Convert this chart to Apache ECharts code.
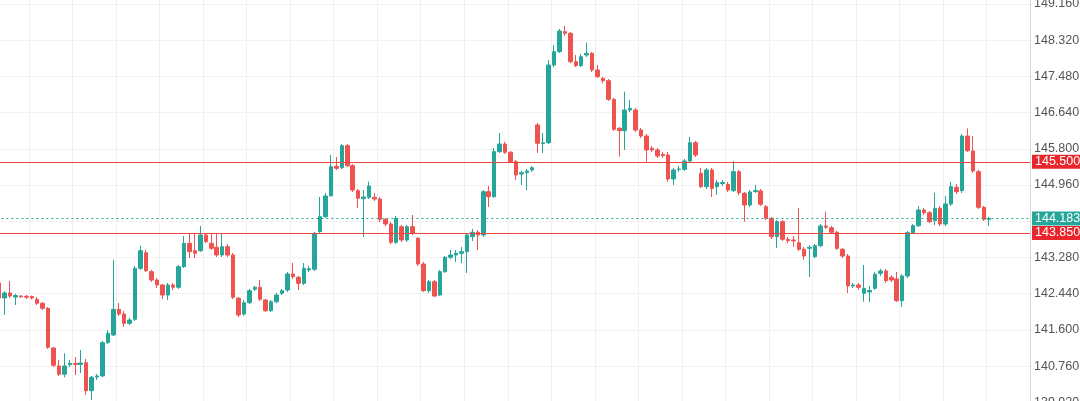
<!DOCTYPE html>
<html>
<head>
<meta charset="utf-8">
<script src="https://cdn.jsdelivr.net/npm/echarts@6/dist/echarts.min.js"></script>
<style>
html,body{margin:0;padding:0;background:#fff;}
#chart{width:1080px;height:401px;}
</style>
</head>
<body>
<div id="chart"></div>
<script>
const openV = [142.687,142.339,142.455,142.362,142.385,142.379,142.374,142.309,142.216,142.100,141.179,140.762,140.570,140.792,140.820,140.797,140.838,140.189,140.507,140.530,141.303,141.481,142.077,141.968,141.752,141.845,143.028,143.390,142.950,142.757,142.641,142.409,142.641,142.588,143.066,143.608,143.437,143.437,143.801,143.608,143.516,143.337,143.530,143.337,142.333,141.968,142.230,142.541,142.588,142.293,142.045,142.253,142.448,142.525,142.896,142.820,142.680,142.989,143.005,143.878,144.226,144.713,145.395,145.362,145.873,145.409,144.829,144.643,144.676,144.676,144.636,144.165,144.056,143.632,143.994,143.685,143.994,143.724,143.128,142.509,142.718,142.409,142.950,143.284,143.337,143.377,143.414,143.762,143.864,143.801,144.806,144.690,145.734,145.912,145.720,145.502,145.216,145.246,145.309,146.353,145.924,145.942,147.745,148.054,148.518,148.480,147.822,147.729,147.977,148.016,147.629,147.436,147.381,146.949,146.276,146.221,146.701,146.701,146.237,146.098,145.812,145.773,145.673,145.657,145.100,145.321,145.325,145.518,145.942,145.232,144.922,145.309,144.922,144.996,144.977,144.829,145.270,144.768,144.497,144.810,144.822,144.458,144.189,143.762,144.110,143.701,143.685,143.622,143.469,143.492,143.298,143.553,144.010,143.970,143.864,143.469,143.314,142.618,142.641,142.448,142.479,142.564,142.912,142.966,142.820,142.780,142.277,142.850,143.854,144.017,144.381,144.318,144.133,144.420,144.056,144.520,144.908,144.829,146.098,145.750,145.270,144.444,144.165];
const closeV = [142.339,142.455,142.385,142.397,142.367,142.356,142.339,142.216,142.100,141.196,140.778,140.570,140.762,140.824,140.797,140.831,140.189,140.500,140.530,141.303,141.521,142.077,141.968,141.752,141.829,143.028,143.437,142.973,142.757,142.641,142.409,142.641,142.588,143.066,143.608,143.414,143.377,143.801,143.646,143.493,143.337,143.530,143.337,142.356,141.945,142.230,142.509,142.588,142.309,142.045,142.253,142.409,142.509,142.896,142.834,142.680,143.028,143.019,143.840,144.226,144.706,145.386,145.349,145.873,145.409,144.845,144.653,144.683,144.938,144.636,144.165,144.056,143.632,144.189,143.685,143.994,143.840,143.128,142.509,142.718,142.385,142.950,143.284,143.337,143.377,143.414,143.801,143.864,143.801,144.806,144.690,145.734,145.912,145.720,145.502,145.193,145.246,145.286,145.362,145.928,145.940,147.745,148.054,148.534,148.480,147.822,147.729,147.938,148.016,147.629,147.474,147.381,146.949,146.253,146.221,146.701,146.740,146.237,146.098,145.773,145.773,145.634,145.641,145.100,145.309,145.332,145.518,145.942,145.657,144.922,145.309,144.884,145.014,145.019,144.845,145.270,144.782,144.497,144.799,144.833,144.513,144.189,143.762,144.110,143.701,143.669,143.662,143.469,143.314,143.516,143.553,144.010,143.980,143.864,143.492,143.314,142.618,142.641,142.588,142.564,142.514,142.889,142.966,142.741,142.757,142.277,142.850,143.854,144.017,144.381,144.318,144.110,144.420,144.056,144.520,144.922,144.806,146.098,145.757,145.286,144.444,144.165,144.183];
const lowV = [142.293,141.945,142.339,142.177,142.339,142.316,142.304,142.177,142.061,141.156,140.739,140.530,140.500,140.739,140.553,140.599,140.089,139.973,140.437,140.507,141.272,141.458,141.922,141.667,141.713,141.806,142.989,142.943,142.711,142.571,142.316,142.293,142.525,142.548,143.035,143.267,143.267,143.407,143.615,143.453,143.291,143.291,143.291,142.316,141.899,141.922,142.200,142.501,142.270,142.015,142.015,142.223,142.409,142.478,142.780,142.525,142.641,142.943,142.966,143.848,144.195,144.683,145.309,145.332,145.379,144.799,144.427,143.755,144.636,144.590,144.103,144.010,143.592,143.592,143.639,143.639,143.801,143.082,142.478,142.455,142.362,142.385,142.919,143.237,143.175,143.151,142.919,143.662,143.453,143.755,144.450,144.659,145.703,145.680,145.471,145.077,144.961,144.845,145.263,145.710,145.703,145.912,147.699,148.023,148.418,147.791,147.699,147.699,147.931,147.583,147.443,147.327,146.910,146.214,145.618,145.773,146.655,146.191,146.051,145.502,145.726,145.587,145.587,145.031,144.961,145.263,145.286,145.471,145.610,144.891,144.868,144.683,144.729,144.938,144.799,144.799,144.729,144.110,144.450,144.776,144.474,144.149,143.708,143.499,143.662,143.615,143.523,143.430,143.221,142.826,143.267,143.523,143.941,143.824,143.453,143.267,142.455,142.571,142.525,142.254,142.247,142.525,142.850,142.687,142.711,142.247,142.131,142.804,143.824,143.987,144.265,144.079,144.033,144.010,144.010,144.474,144.752,144.776,145.726,145.240,144.404,144.126,144.010];
const highV = [142.757,142.501,142.734,142.432,142.409,142.409,142.397,142.362,142.247,142.131,141.203,140.901,141.056,140.901,140.971,141.133,140.924,140.530,140.576,141.342,141.597,143.221,142.223,142.038,141.875,143.082,143.553,143.453,142.989,142.804,142.664,142.687,142.687,143.105,143.778,143.848,143.848,144.010,143.848,143.848,143.848,143.848,143.592,143.384,142.362,142.293,142.548,142.618,142.757,142.316,142.293,142.455,142.548,142.943,143.151,142.850,143.151,143.082,143.871,144.683,144.776,145.657,145.610,145.912,145.912,145.448,144.868,144.845,145.038,144.776,144.683,144.195,144.103,144.242,144.033,144.033,144.265,143.755,143.175,142.757,142.757,142.989,143.314,143.453,143.453,143.523,143.848,143.941,143.917,144.845,144.938,145.819,146.168,145.966,145.750,145.541,145.286,145.332,145.402,146.399,146.168,147.861,148.209,148.581,148.650,148.511,147.977,148.000,148.262,148.047,147.745,147.467,147.420,146.980,146.307,147.126,146.933,146.747,146.283,146.144,145.866,145.819,145.727,145.727,145.355,145.402,145.564,146.074,145.982,145.355,145.355,145.355,145.077,145.077,145.031,145.518,145.309,144.799,144.845,144.961,144.868,144.497,144.219,144.149,144.149,143.755,143.778,144.427,143.523,143.569,143.592,144.056,144.342,144.010,143.894,143.499,143.360,142.687,142.687,143.105,142.618,142.943,143.012,143.012,142.873,142.943,142.896,143.894,144.056,144.474,144.427,144.358,144.782,144.474,144.706,145.038,144.984,146.144,146.276,146.098,145.309,144.474,144.219];

const totalSlots = 190;
const categories = Array.from({length: totalSlots}, (_, i) => String(i + 1));

const tickValues = [139.92,140.76,141.60,142.44,143.28,144.12,144.96,145.80,146.64,147.48,148.32,149.16];
const labelValues = [139.92,140.76,141.60,142.44,143.28,144.96,145.80,146.64,147.48,148.32,149.16];

const resistance = 145.500;
const support = 143.850;
const lastPrice = 144.183;

const UP = '#26a69a', DOWN = '#ef5350', LINE_RED = '#f0443e', TAG_RED = '#e8262c', TAG_TEAL = '#26a69a';

const candles = openV.map((o, i) => [o, closeV[i], lowV[i], highV[i]]);

function tag(bg) {
  return {
    show: true, position: 'end', distance: 2,
    formatter: p => Number(p.value).toFixed(3),
    backgroundColor: bg, color: '#fff', fontSize: 12.5,
    fontFamily: 'Liberation Sans, Arial, sans-serif',
    padding: [1, 3, 0, 3], lineHeight: 13
  };
}

const chart = echarts.init(document.getElementById('chart'), null, {renderer: 'canvas'});
chart.setOption({
  animation: false,
  backgroundColor: '#ffffff',
  grid: {left: -3.6, right: 50, top: 0, bottom: -2, containLabel: false, outerBoundsMode: 'none'},
  xAxis: {
    type: 'category', data: categories, boundaryGap: true,
    axisLine: {show: false}, axisTick: {show: false}, axisLabel: {show: false},
    splitLine: {show: true, interval: (idx) => idx % 8 === 6, lineStyle: {color: '#f1f1f1', width: 1}}
  },
  yAxis: {
    type: 'value', position: 'right', scale: true,
    min: 139.903, max: 149.253,
    axisLine: {show: true, lineStyle: {color: '#d8d8d8'}},
    axisTick: {show: false, customValues: tickValues},
    axisLabel: {
      show: true, customValues: labelValues, margin: 4,
      formatter: v => Number(v).toFixed(3),
      color: '#555', fontSize: 12.5, fontFamily: 'Liberation Sans, Arial, sans-serif'
    },
    splitLine: {show: true, lineStyle: {color: '#f1f1f1', width: 1}}
  },
  series: [{
    type: 'candlestick',
    data: candles,
    barWidth: 4,
    itemStyle: {color: UP, color0: DOWN, borderColor: UP, borderColor0: DOWN, borderWidth: 1},
    markLine: {
      silent: true, animation: false, symbol: ['none', 'none'],
      precision: 3,
      data: [
        {yAxis: resistance, lineStyle: {color: LINE_RED, type: 'solid', width: 1}, label: tag(TAG_RED)},
        {yAxis: lastPrice, lineStyle: {color: TAG_TEAL, type: [2, 3], width: 1}, label: tag(TAG_TEAL)},
        {yAxis: support, symbol: ['circle', 'circle'], symbolSize: 5, lineStyle: {color: LINE_RED, type: 'solid', width: 1}, label: tag(TAG_RED)}
      ]
    }
  }]
});
</script>
</body>
</html>
